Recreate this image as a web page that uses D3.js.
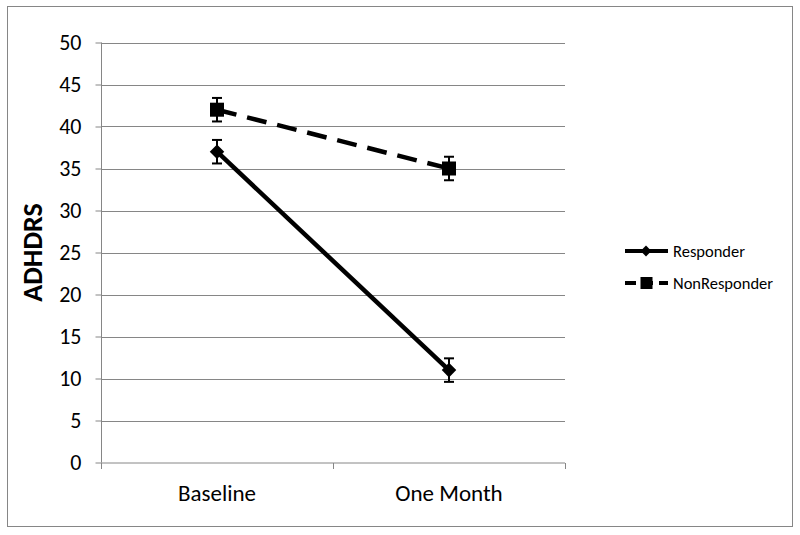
<!DOCTYPE html>
<html>
<head>
<meta charset="utf-8">
<script src="https://cdn.jsdelivr.net/npm/d3@7/dist/d3.min.js"></script>
<style>
  body { margin: 0; background: #fff; }
  text { font-family: Carlito, Lato, "Open Sans", sans-serif; fill: #000; }
</style>
</head>
<body>
<svg id="chart" width="800" height="535"></svg>
<script>
const categories = ["Baseline", "One Month"];
const seriesNames = ["Responder", "NonResponder"];
const responderValues = [37, 11];
const nonResponderValues = [42, 35];
const responderErrors = [1.4, 1.4];
const nonResponderErrors = [1.4, 1.4];
const yTicks = [0, 5, 10, 15, 20, 25, 30, 35, 40, 45, 50];
const yTitle = "ADHDRS";

(function () {
const series = [
  { name: seriesNames[0], values: responderValues, errors: responderErrors, marker: "diamond", dash: null },
  { name: seriesNames[1], values: nonResponderValues, errors: nonResponderErrors, marker: "square", dash: "20,11" }
];

const svg = d3.select("#chart");
const gray = "#868686";

// outer border
svg.append("rect").attr("x", 7.5).attr("y", 6.5).attr("width", 785).attr("height", 520)
  .attr("fill", "none").attr("stroke", gray).attr("stroke-width", 1);

const pL = 101, pR = 565, pT = 42.5, pB = 462.5;
const x = d3.scaleBand().domain(categories).range([pL, pR]);
const y = d3.scaleLinear().domain([0, 50]).range([pB, pT]);

// gridlines
svg.append("g").selectAll("line").data(yTicks.filter(d => d > 0)).join("line")
  .attr("x1", pL).attr("x2", pR)
  .attr("y1", d => Math.round(y(d)) + 0.5).attr("y2", d => Math.round(y(d)) + 0.5)
  .attr("stroke", gray).attr("stroke-width", 1);

// y axis
const yAxis = svg.append("g").attr("transform", `translate(${pL + 0.5},0)`)
  .call(d3.axisLeft(y).tickValues(yTicks).tickSize(6).tickPadding(14).tickFormat(d3.format("d")));
yAxis.selectAll("path, line").attr("stroke", gray);
yAxis.select(".domain").attr("d", `M0,${pT}V${pB}`);
yAxis.selectAll("text").attr("font-size", 22).style("font-family", "Carlito, Lato, 'Open Sans', sans-serif");

// x axis
const xAxis = svg.append("g").attr("transform", `translate(0,${pB + 0.5})`);
xAxis.append("line").attr("x1", pL).attr("x2", pR).attr("stroke", gray);
const xTickPos = [pL, ...categories.map(c => x(c) + x.bandwidth())];
xAxis.selectAll("line.tk").data(xTickPos).join("line").attr("class", "tk")
  .attr("x1", d => d + 0.5).attr("x2", d => d + 0.5).attr("y1", 0).attr("y2", 6).attr("stroke", gray);
xAxis.selectAll("text").data(categories).join("text")
  .attr("x", d => x(d) + x.bandwidth() / 2).attr("y", 38)
  .attr("text-anchor", "middle").attr("font-size", 23).text(d => d);

// y title
svg.append("text").attr("transform", `translate(42,${(pT + pB) / 2}) rotate(-90)`)
  .attr("text-anchor", "middle").attr("font-size", 28).attr("font-weight", "bold").text(yTitle);

const cx = c => x(c) + x.bandwidth() / 2;

function drawMarker(g, type, px, py) {
  if (type === "diamond") {
    g.append("path").attr("d", d3.symbol().type(d3.symbolDiamond2).size(135)())
      .attr("transform", `translate(${px},${py})`).attr("fill", "#000");
  } else {
    g.append("rect").attr("x", px - 7).attr("y", py - 7).attr("width", 14).attr("height", 14).attr("fill", "#000");
  }
}

series.forEach(s => {
  const g = svg.append("g");
  const pts = categories.map((c, i) => [cx(c), y(s.values[i])]);
  g.append("path").attr("d", d3.line()(pts)).attr("fill", "none").attr("stroke", "#000")
    .attr("stroke-width", 4.5).attr("stroke-dasharray", s.dash);
  categories.forEach((c, i) => {
    const px = cx(c), v = s.values[i], e = s.errors[i];
    g.append("line").attr("x1", px).attr("x2", px).attr("y1", y(v + e)).attr("y2", y(v - e))
      .attr("stroke", "#000").attr("stroke-width", 2);
    [v + e, v - e].forEach(t => g.append("line").attr("x1", px - 5).attr("x2", px + 5)
      .attr("y1", y(t)).attr("y2", y(t)).attr("stroke", "#000").attr("stroke-width", 2));
    drawMarker(g, s.marker, px, y(v));
  });
});

// legend
const legend = svg.append("g");
series.forEach((s, i) => {
  const ly = 251 + i * 32;
  legend.append("line").attr("x1", 625).attr("x2", 668).attr("y1", ly).attr("y2", ly)
    .attr("stroke", "#000").attr("stroke-width", 4).attr("stroke-dasharray", s.dash ? "11,6" : null);
  if (s.marker === "diamond") {
    legend.append("path").attr("d", d3.symbol().type(d3.symbolDiamond2).size(75)())
      .attr("transform", `translate(646,${ly})`).attr("fill", "#000");
  } else {
    legend.append("rect").attr("x", 640.5).attr("y", ly - 6).attr("width", 12).attr("height", 12).attr("fill", "#000");
  }
  legend.append("text").attr("x", 673).attr("y", ly + 6).attr("font-size", 16.5).text(s.name);
});
})();
</script>
</body>
</html>
